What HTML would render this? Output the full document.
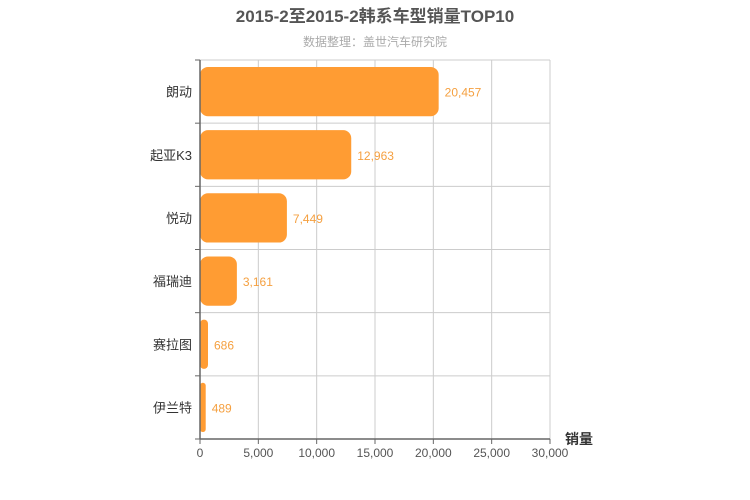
<!DOCTYPE html>
<html><head><meta charset="utf-8"><style>
body{margin:0;background:#fff}
svg{display:block;font-family:"Liberation Sans","Noto Sans CJK SC",sans-serif}
</style></head><body>
<svg id="c" width="750" height="500">
<text x="375" y="22" text-anchor="middle" font-size="17" font-weight="bold" fill="#555">2015-2至2015-2韩系车型销量TOP10</text>
<text x="375" y="46" text-anchor="middle" font-size="12" fill="#aaa">数据整理：盖世汽车研究院</text>
<g id="grid"></g><g id="bars"></g><g id="axes"></g>
<text x="565" y="444" font-size="14" font-weight="bold" fill="#333">销量</text>
</svg>
<script>
const categories=["朗动","起亚K3","悦动","福瑞迪","赛拉图","伊兰特"];
const values=[20457,12963,7449,3161,686,489];
const ticks=[0,5000,10000,15000,20000,25000,30000];
const tickLabels=["0","5,000","10,000","15,000","20,000","25,000","30,000"];
const X0=200,X1=550,Y0=60,Y1=439,MAX=30000;
const NS="http://www.w3.org/2000/svg";
const x=v=>X0+(X1-X0)*v/MAX;
const band=(Y1-Y0)/categories.length;
const y=i=>Y0+band*i;
function mk(t,a,p,txt){const e=document.createElementNS(NS,t);for(const k in a)e.setAttribute(k,a[k]);if(txt!==undefined)e.textContent=txt;document.getElementById(p).appendChild(e);return e;}
ticks.forEach((t,i)=>{
 const g=mk('line',{x1:x(t),x2:x(t),y1:Y0,y2:Y1,stroke:'#ccc','stroke-width':1},'grid');
 
 
 const l=mk('text',{x:x(t),y:Y1+18,'text-anchor':'middle','font-size':12,fill:'#555'},'axes',tickLabels[i]);
 
 
});
mk('line',{x1:X0,x2:X1,y1:Y0,y2:Y0,stroke:'#ccc'},'grid');
categories.forEach((c,i)=>{
 const h=mk('line',{x1:X0,x2:X1,y1:y(i+1),y2:y(i+1),stroke:'#ccc'},'grid');
 
 
 const bh=band*0.78, by=y(i)+band*0.11;
 const w=Math.max(x(values[i])-X0,1);
 const b=mk('rect',{x:X0,y:by,width:w,height:bh,rx:Math.min(8,w/2),fill:'#ff9c33'},'bars');
 
 
 const v=mk('text',{x:x(values[i])+6,y:y(i)+band/2+5,'font-size':12,fill:'#f5a040'},'bars',values[i].toLocaleString('en-US'));
 
 
 const cl=mk('text',{x:X0-8,y:y(i)+band/2+5,'text-anchor':'end','font-size':13,fill:'#333'},'axes',c);
 
 
});
for(let i=0;i<=categories.length;i++){const t=mk('line',{x1:X0-5,x2:X0,y1:y(i),y2:y(i),stroke:'#666'},'axes');}
ticks.forEach(t=>{const k=mk('line',{x1:x(t),x2:x(t),y1:Y1,y2:Y1+5,stroke:'#666'},'axes');});
const ya=mk('line',{x1:X0,x2:X0,y1:Y0,y2:Y1,stroke:'#666','stroke-width':1.5},'axes');


const xa=mk('line',{x1:X0,x2:X1,y1:Y1,y2:Y1,stroke:'#666','stroke-width':1.5},'axes');


</script>
</body></html>
